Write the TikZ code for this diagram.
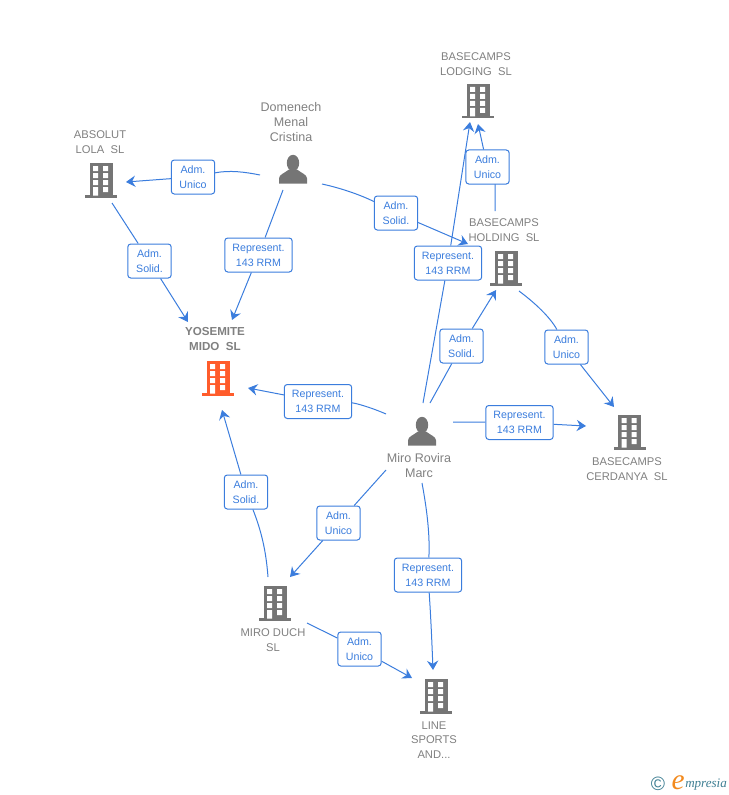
\documentclass[tikz,border=0pt]{standalone}
\usepackage{fontspec}
\setmainfont{Liberation Sans}
\newfontfamily\logofont{Liberation Serif}
\usetikzlibrary{arrows.meta,backgrounds}
\definecolor{linkblue}{HTML}{3B7DDD}
\definecolor{namegray}{HTML}{808080}
\definecolor{icongray}{HTML}{757575}
\definecolor{hotorange}{HTML}{FF5C2B}
\definecolor{logoteal}{HTML}{3F7F93}
\definecolor{logoorange}{HTML}{F28A1E}
\tikzset{
  x=0.75pt,y=-0.75pt,
  linkbox/.style={draw=linkblue,fill=white,rounded corners=2.2pt,line width=0.75pt,text=linkblue,
    font=\fontsize{8}{11.25}\selectfont,align=center,inner sep=0pt,minimum height=25.5pt},
  admbox/.style={linkbox,minimum width=32.5pt},
  repbox/.style={linkbox,minimum width=50.5pt},
  conn/.style={draw=linkblue,line width=0.75pt,-{Stealth[length=7pt,width=8.5pt,inset=2.4pt]}},
  plain/.style={draw=linkblue,line width=0.75pt},
  coname/.style={text=namegray,font=\fontsize{8.4}{10.9}\selectfont,align=center,inner sep=0pt},
  hotname/.style={coname,font=\fontsize{8.7}{11.2}\bfseries\selectfont},
  pername/.style={text=namegray,font=\fontsize{9.4}{11.25}\selectfont,align=center,inner sep=0pt},
  bldg/.pic={
    \fill[pic actions] (-16,15) rectangle (16,17.5);
    \fill[pic actions] (-11.5,-17) rectangle (11.5,16);
    \fill[white] (-8,-14) rectangle (-3,-9) (2,-14) rectangle (7,-9)
      (-8,-7) rectangle (-3,-2) (2,-7) rectangle (7,-2)
      (-8,0) rectangle (-3,5) (2,0) rectangle (7,5)
      (-8,7) rectangle (-3,15.5) (2,7) rectangle (7,12);
  },
  person/.pic={
    \fill[icongray] (0,-7) ellipse (6.2 and 8.2);
    \fill[icongray] (-14,13.5) -- (-14,8.5) .. controls (-14,4.5) and (-9,3.5) .. (-4,-0.5) -- (4,-0.5)
      .. controls (9,3.5) and (14,4.5) .. (14,8.5) -- (14,13.5) -- cycle;
  },
}
\begin{document}
\begin{tikzpicture}
\useasboundingbox (0,0) rectangle (728,795);

% icons
\pic[fill=icongray] at (101,180) {bldg};
\pic[fill=icongray] at (478,101) {bldg};
\pic[fill=icongray] at (506,268) {bldg};
\pic[fill=hotorange] at (218,378) {bldg};
\pic[fill=icongray] at (629.5,432) {bldg};
\pic[fill=icongray] at (275,603) {bldg};
\pic[fill=icongray] at (436,696) {bldg};
\pic at (293,170) {person};
\pic at (422,432) {person};

% names
\node[coname] (nlodging) at (476,64) {BASECAMPS\\LODGING\ \ SL};
\node[coname] (nholding) at (504,230) {BASECAMPS\\HOLDING\ \ SL};
\node[coname] (nabsolut) at (100,142) {ABSOLUT\\LOLA\ \ SL};
\node[pername] (ndomenech) at (291,122) {Domenech\\Menal\\Cristina};
\node[hotname] (nyosemite) at (215,339) {YOSEMITE\\MIDO\ \ SL};
\node[pername] (nmiro) at (419,466) {Miro Rovira\\Marc};
\node[coname] (ncerdanya) at (627,469) {BASECAMPS\\CERDANYA\ \ SL};
\node[coname] (nduch) at (273,640) {MIRO DUCH\\SL};
\node[coname] (nline) at (434,740) {LINE\\SPORTS\\AND...};

% link labels
\node[admbox] (l1) at (193,177) {Adm.\\Unico};
\node[repbox] (l2) at (258.5,255) {Represent.\\143 RRM};
\node[admbox] (l3) at (396,213) {Adm.\\Solid.};
\node[admbox] (l4) at (149.5,261) {Adm.\\Solid.};
\node[repbox] (l5) at (318,401.5) {Represent.\\143 RRM};
\node[repbox] (l6) at (448,263) {Represent.\\143 RRM};
\node[admbox] (l7) at (487.5,167) {Adm.\\Unico};
\node[admbox] (l8) at (461.5,346) {Adm.\\Solid.};
\node[admbox] (l9) at (566.5,347) {Adm.\\Unico};
\node[repbox] (l10) at (519.5,422.5) {Represent.\\143 RRM};
\node[admbox] (l11) at (338.5,523) {Adm.\\Unico};
\node[repbox] (l12) at (428,575) {Represent.\\143 RRM};
\node[admbox] (l13) at (246,492) {Adm.\\Solid.};
\node[admbox] (l14) at (359.5,649) {Adm.\\Unico};

% free ends of the connectors
\coordinate (domW) at (260,175);
\coordinate (domS) at (283,190);
\coordinate (domE) at (322,184);
\coordinate (absS) at (112,203);
\coordinate (absE) at (126,182);
\coordinate (yosN1) at (188,322);
\coordinate (yosN2) at (232,320);
\coordinate (yosE) at (248,388);
\coordinate (yosS) at (222,410);
\coordinate (lodS1) at (470,122);
\coordinate (lodS2) at (478,124);
\coordinate (holW) at (468,244);
\coordinate (holN) at (495,211);
\coordinate (holS) at (496,290);
\coordinate (holE) at (519,291);
\coordinate (cerN) at (614,407);
\coordinate (cerW) at (586,426);
\coordinate (mirW) at (386,414);
\coordinate (mirN1) at (423,403);
\coordinate (mirN2) at (430,403);
\coordinate (mirE) at (453,422);
\coordinate (mirSW) at (386,470);
\coordinate (mirS) at (422,483);
\coordinate (duchN) at (290,577);
\coordinate (duchNN) at (268,577);
\coordinate (duchE) at (307,623);
\coordinate (linN) at (433,670);
\coordinate (linW) at (412,678);

\begin{scope}[on background layer]
\draw[plain] (domW) .. controls (245,172) and (230,170) .. (l1);
\draw[conn] (l1) -- (absE);
\draw[plain] (domS) -- (l2);
\draw[conn] (l2) -- (yosN2);
\draw[plain] (domE) .. controls (345,189) and (365,197) .. (l3);
\draw[conn] (l3) -- (holW);
\draw[plain] (absS) -- (l4);
\draw[conn] (l4) -- (yosN1);
\draw[plain] (mirW) .. controls (370,407) and (355,403) .. (l5);
\draw[conn] (l5) -- (yosE);
\draw[plain] (mirN1) -- (l6);
\draw[conn] (l6) -- (lodS1);
\draw[plain] (holN) -- (495,184) -- (l7);
\draw[conn] (l7) -- (lodS2);
\draw[plain] (mirN2) -- (l8);
\draw[conn] (l8) -- (holS);
\draw[plain] (holE) .. controls (535,303) and (550,317) .. (l9);
\draw[conn] (l9) -- (cerN);
\draw[plain] (mirE) -- (l10);
\draw[conn] (l10) -- (cerW);
\draw[plain] (mirSW) -- (l11);
\draw[conn] (l11) -- (duchN);
\draw[plain] (mirS) .. controls (427,510) and (430,535) .. (l12);
\draw[conn] (l12) .. controls (431,620) and (432,645) .. (linN);
\draw[plain] (duchNN) .. controls (266,550) and (261,530) .. (l13);
\draw[conn] (l13) -- (yosS);
\draw[plain] (duchE) -- (l14);
\draw[conn] (l14) -- (linW);
\end{scope}

% logo
\node[text=logoteal,font=\fontsize{14.5}{15}\selectfont,inner sep=0pt] (logoc) at (658,784) {©};
\node[text=logoorange,font=\logofont\itshape\fontsize{22}{22}\selectfont,inner sep=0pt] (logoe) at (678,783) {e};
\node[text=logoteal,font=\logofont\itshape\fontsize{9.8}{11}\selectfont,inner sep=0pt,anchor=west] (logot) at (685,785) {mpresia};
\end{tikzpicture}
\end{document}
